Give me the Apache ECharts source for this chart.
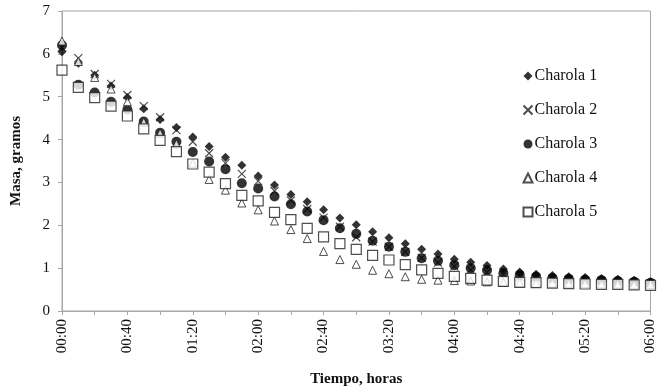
<!DOCTYPE html>
<html>
<head>
<meta charset="utf-8">
<script src="https://cdn.jsdelivr.net/npm/echarts@6/dist/echarts.min.js"></script>
<style>
  html, body { margin: 0; padding: 0; background: #fff; }
  #chart { width: 658px; height: 392px; }
</style>
</head>
<body>
<div id="chart"></div>
<script>
// minutos desde el inicio, cada 10 min
var minutos = [];
for (var m = 0; m <= 360; m += 10) minutos.push(m);

var charola1 = [6.05, 5.78, 5.50, 5.25, 4.98, 4.72, 4.47, 4.28, 4.06, 3.84, 3.59, 3.40, 3.15, 2.94, 2.72, 2.55, 2.36, 2.17, 2.01, 1.85, 1.71, 1.57, 1.44, 1.33, 1.21, 1.14, 1.06, 0.98, 0.91, 0.86, 0.83, 0.80, 0.78, 0.76, 0.74, 0.72, 0.68];
var charola2 = [6.15, 5.90, 5.53, 5.30, 5.04, 4.78, 4.52, 4.22, 3.95, 3.68, 3.45, 3.20, 3.03, 2.80, 2.58, 2.38, 2.18, 1.97, 1.72, 1.62, 1.50, 1.38, 1.24, 1.13, 1.04, 0.96, 0.90, 0.85, 0.80, 0.77, 0.74, 0.72, 0.70, 0.69, 0.68, 0.67, 0.65];
var charola3 = [6.20, 5.28, 5.10, 4.88, 4.70, 4.42, 4.16, 3.95, 3.71, 3.49, 3.31, 2.98, 2.86, 2.67, 2.49, 2.32, 2.12, 1.93, 1.80, 1.64, 1.50, 1.38, 1.23, 1.17, 1.07, 1.00, 0.95, 0.88, 0.84, 0.80, 0.77, 0.75, 0.73, 0.72, 0.70, 0.68, 0.66];
var charola4 = [6.30, 5.82, 5.45, 5.18, 4.88, 4.41, 4.15, 3.90, 3.45, 3.07, 2.82, 2.52, 2.36, 2.10, 1.90, 1.69, 1.39, 1.20, 1.09, 0.95, 0.87, 0.80, 0.74, 0.72, 0.71, 0.70, 0.68, 0.67, 0.66, 0.65, 0.65, 0.64, 0.64, 0.63, 0.63, 0.62, 0.62];
var charola5 = [5.62, 5.22, 4.98, 4.78, 4.55, 4.25, 3.98, 3.72, 3.43, 3.24, 2.97, 2.70, 2.57, 2.30, 2.13, 1.93, 1.73, 1.57, 1.44, 1.30, 1.19, 1.08, 0.96, 0.88, 0.81, 0.76, 0.72, 0.69, 0.67, 0.66, 0.65, 0.64, 0.63, 0.62, 0.62, 0.61, 0.60];

var nombres = ['Charola 1', 'Charola 2', 'Charola 3', 'Charola 4', 'Charola 5'];

function pares(vals) {
    return vals.map(function (v, i) { return [minutos[i], v]; });
}

function hhmm(val) {
    var h = Math.floor(val / 60), mm = val % 60;
    return (h < 10 ? '0' : '') + h + ':' + (mm < 10 ? '0' : '') + mm;
}

var fuente = 'Liberation Serif';
var gris = '#a6a6a6';

var chart = echarts.init(document.getElementById('chart'));
var option = {
    animation: false,
    textStyle: { fontFamily: fuente },
    grid: {
        left: 62, right: 6, top: 11, bottom: 77,
        show: true,
        borderColor: gris,
        borderWidth: 1
    },
    legend: {
        orient: 'vertical',
        left: 516, top: 63,
        itemGap: 18,
        itemWidth: 9, itemHeight: 9,
        textStyle: { fontFamily: fuente, fontSize: 16, color: '#111', padding: [0, 0, 0, -3] },
        data: nombres
    },
    xAxis: {
        type: 'value',
        min: 0, max: 360, interval: 40,
        name: 'Tiempo, horas',
        nameLocation: 'middle',
        nameGap: 61,
        nameTextStyle: { fontFamily: fuente, fontSize: 15, fontWeight: 'bold', color: '#111' },
        axisLine: { lineStyle: { color: gris } },
        axisTick: { show: true, length: 4, lineStyle: { color: gris } },
        minorTick: { show: true, splitNumber: 2, length: 4, lineStyle: { color: gris } },
        splitLine: { show: false },
        axisLabel: {
            rotate: 90,
            margin: 8,
            fontSize: 15,
            color: '#111',
            formatter: hhmm
        }
    },
    yAxis: {
        type: 'value',
        min: 0, max: 7, interval: 1,
        name: 'Masa, gramos',
        nameLocation: 'middle',
        nameGap: 38,
        nameTextStyle: { fontFamily: fuente, fontSize: 15, fontWeight: 'bold', color: '#111' },
        axisLine: { show: true, lineStyle: { color: gris } },
        axisTick: { show: true, length: 4, lineStyle: { color: gris } },
        splitLine: { show: false },
        axisLabel: { fontSize: 15, color: '#111', margin: 12 }
    },
    series: [
        {
            name: nombres[0], type: 'scatter', data: pares(charola1),
            symbol: 'diamond', symbolSize: 9,
            itemStyle: { color: '#000' }
        },
        {
            name: nombres[1], type: 'scatter', data: pares(charola2),
            symbol: 'path://M0,0L10,10M10,0L0,10', symbolSize: 8,
            itemStyle: { color: 'none', borderColor: '#222', borderWidth: 1.2 }
        },
        {
            name: nombres[2], type: 'scatter', data: pares(charola3),
            symbol: 'circle', symbolSize: 10,
            itemStyle: { color: '#000' }
        },
        {
            name: nombres[3], type: 'scatter', data: pares(charola4),
            symbol: 'triangle', symbolSize: 8,
            itemStyle: { color: '#fff', borderColor: '#222', borderWidth: 1 }
        },
        {
            name: nombres[4], type: 'scatter', data: pares(charola5),
            symbol: 'rect', symbolSize: 10,
            itemStyle: { color: '#fff', borderColor: '#222', borderWidth: 1.2 }
        }
    ]
};
chart.setOption(option);
</script>
</body>
</html>
